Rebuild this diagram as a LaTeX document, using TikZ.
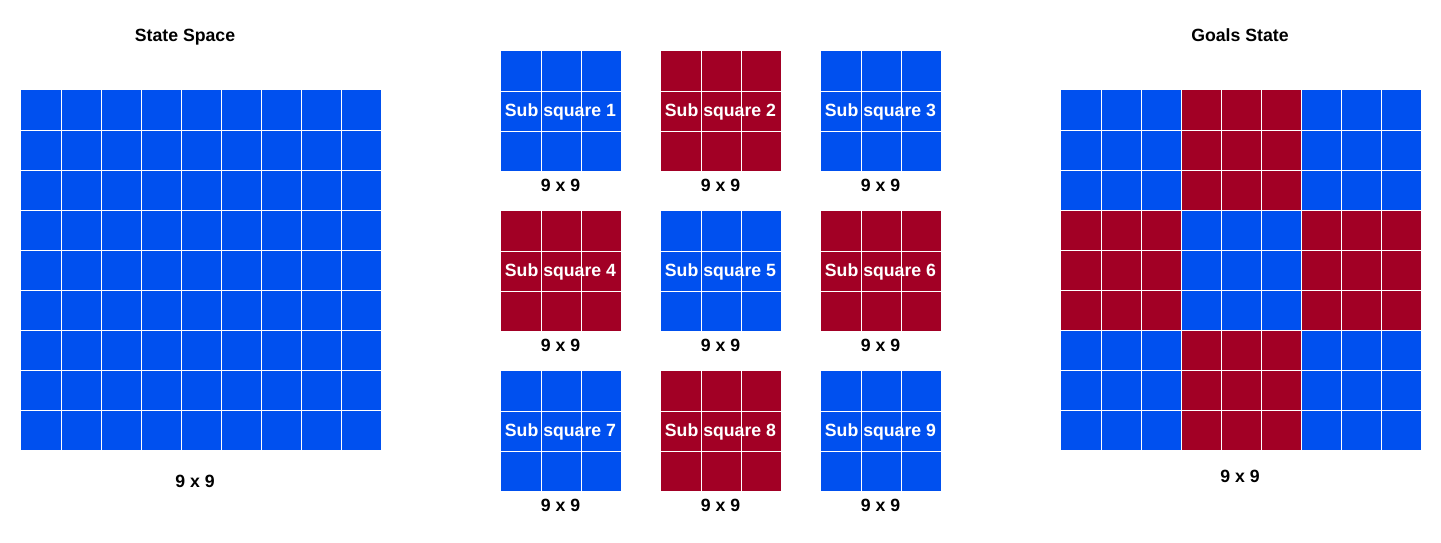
\documentclass[tikz,border=0pt]{standalone}
\usepackage{fontspec}
\setmainfont{Liberation Sans}
\definecolor{cblue}{HTML}{0050EF}
\definecolor{cred}{HTML}{A20025}
\begin{document}
\begin{tikzpicture}[x=1pt,y=-1pt,
  lbl/.style={font=\fontsize{17.7}{20}\selectfont\bfseries, inner sep=0pt, anchor=base, text=black},
  sublbl/.style={lbl, text=white},
  gridline/.style={draw=white, line width=1pt}]
\useasboundingbox (0,0) rectangle (1441,542);
% ---------- State space ----------
\fill[cblue] (21,90) rectangle (381,450);
\foreach \k in {1,...,8}{
  \draw[gridline] (21+40*\k,90) -- (21+40*\k,450);
  \draw[gridline] (21,90+40*\k) -- (381,90+40*\k);
}
\node[lbl] (sstitle) at (185,41) {State Space};
\node[lbl] (sssize) at (195,487) {9 x 9};
% ---------- Goals state ----------
\foreach \r in {0,...,8}{
  \foreach \c in {0,...,8}{
    \pgfmathtruncatemacro\blk{mod(int(\r/3)+int(\c/3),2)}
    \ifnum\blk=1 \def\cc{cred}\else\def\cc{cblue}\fi
    \fill[\cc] (1061+40*\c,90+40*\r) rectangle ++(40,40);
  }
}
\foreach \k in {1,...,8}{
  \draw[gridline] (1061+40*\k,90) -- (1061+40*\k,450);
  \draw[gridline] (1061,90+40*\k) -- (1421,90+40*\k);
}
\node[lbl] (gstitle) at (1240,41) {Goals State};
\node[lbl] (gssize) at (1240,482) {9 x 9};
% ---------- Sub squares ----------
\foreach \i in {0,1,2}{
  \foreach \j in {0,1,2}{
    \pgfmathtruncatemacro\n{3*\i+\j+1}
    \pgfmathtruncatemacro\odd{mod(\n,2)}
    \ifnum\odd=0 \def\cc{cred}\else\def\cc{cblue}\fi
    \pgfmathsetmacro\xx{501+160*\j}
    \pgfmathsetmacro\yy{51+160*\i}
    \fill[\cc] (\xx,\yy) rectangle ++(120,120);
    \foreach \k in {1,2}{
      \draw[gridline] (\xx+40*\k,\yy) -- (\xx+40*\k,\yy+120);
      \draw[gridline] (\xx,\yy+40*\k) -- (\xx+120,\yy+40*\k);
    }
    \node[sublbl] (sub\n) at (\xx+59.5,\yy+65) {Sub square \n};
    \node[lbl] (size\n) at (\xx+59.5,\yy+140) {9 x 9};
  }
}
\end{tikzpicture}
\end{document}
